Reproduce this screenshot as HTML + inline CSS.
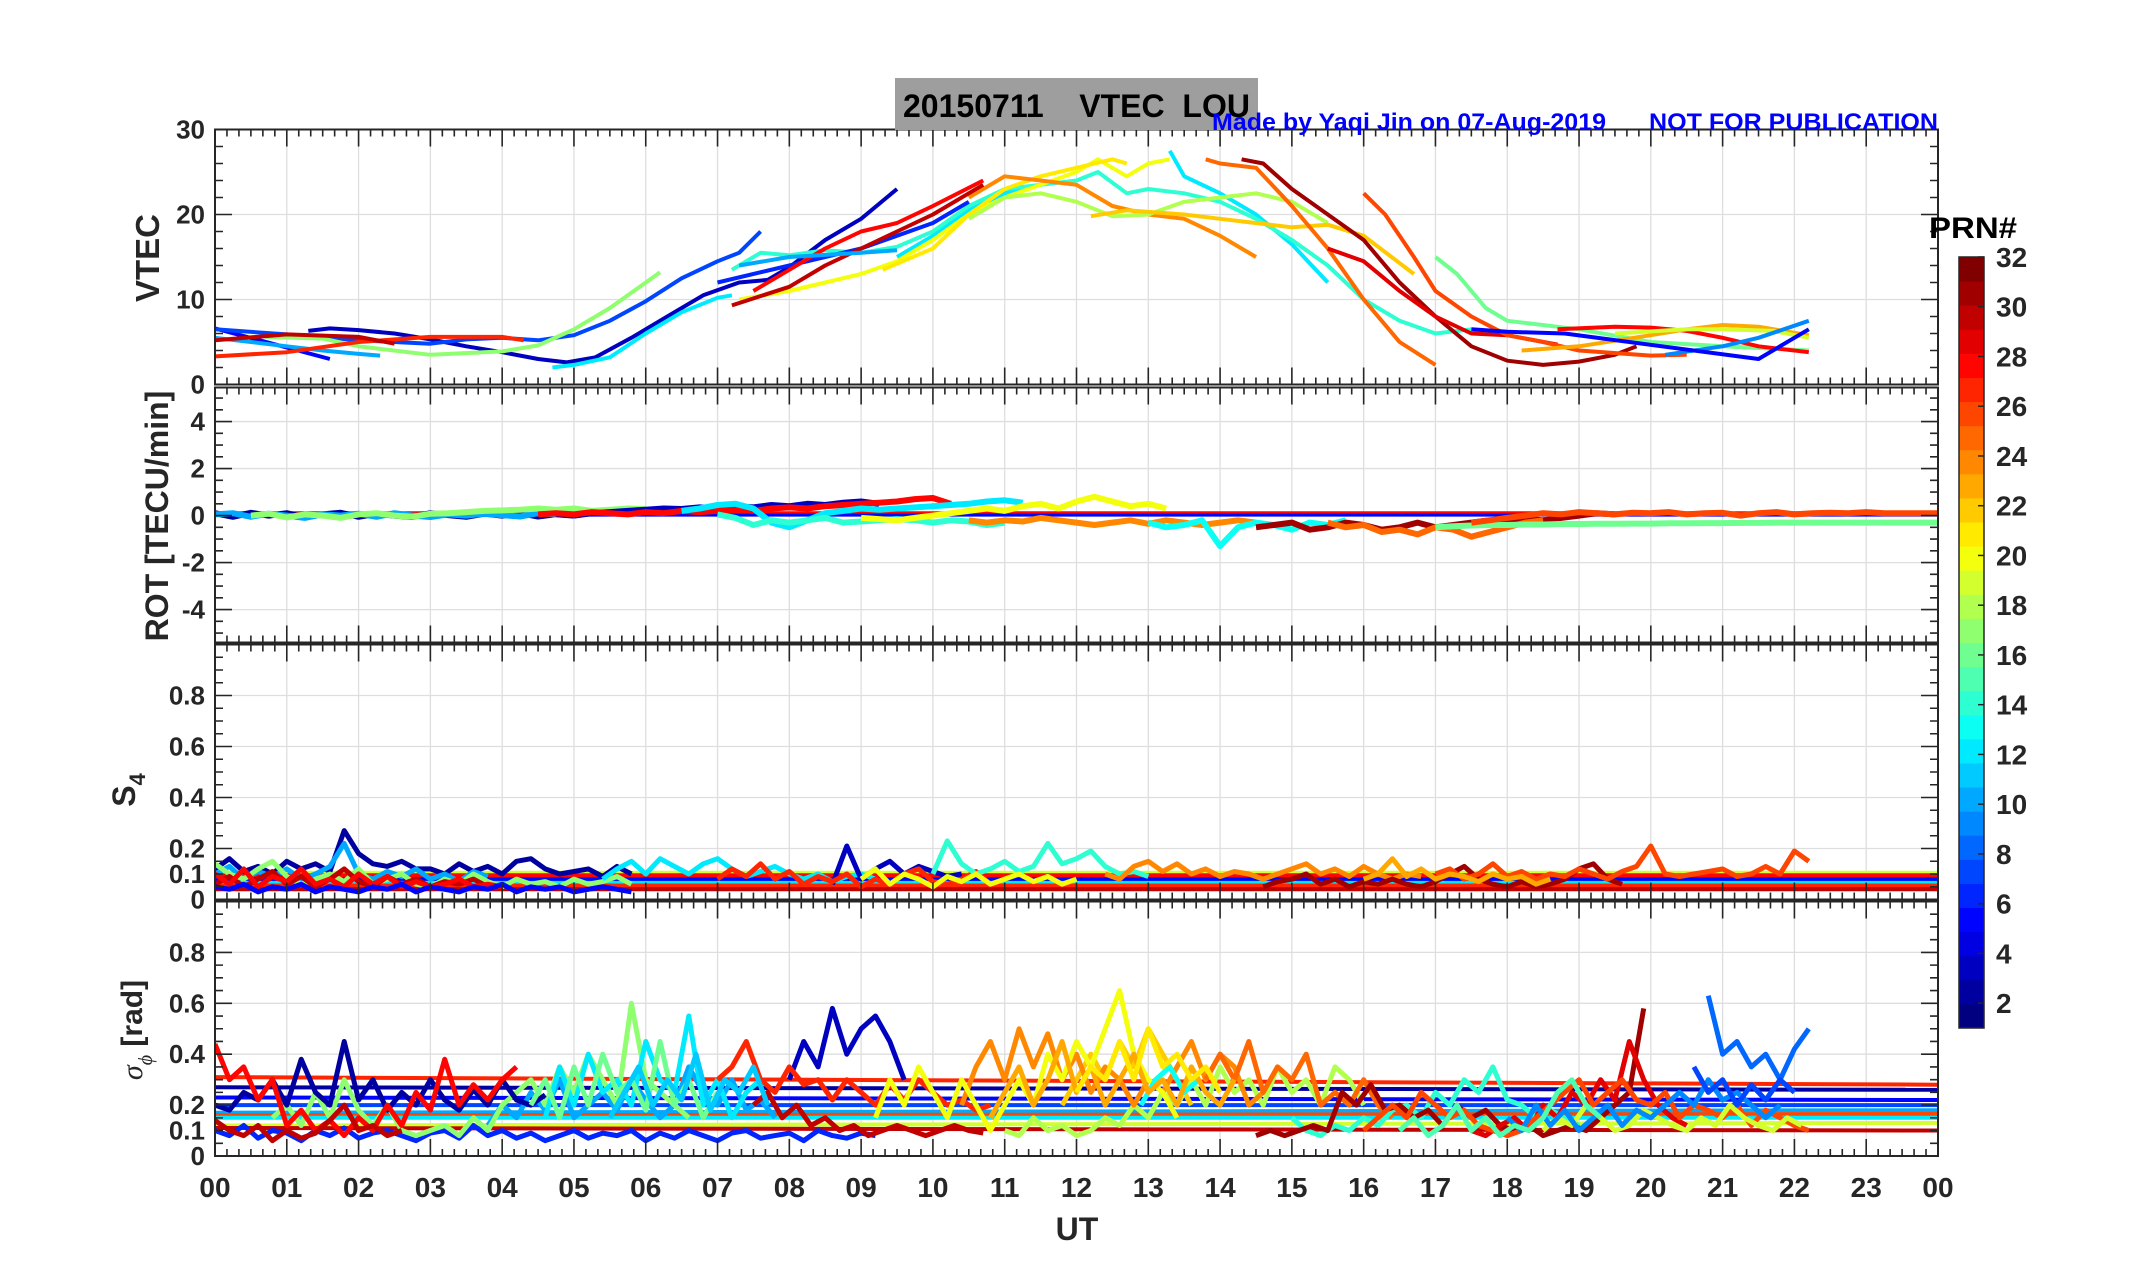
<!DOCTYPE html>
<html><head><meta charset="utf-8"><style>
html,body{margin:0;padding:0;background:#fff;}
svg{display:block;font-family:"Liberation Sans",Arial,sans-serif;}
</style></head><body>
<svg id="fig" width="2153" height="1286" viewBox="0 0 2153 1286" xmlns="http://www.w3.org/2000/svg">
<rect x="0" y="0" width="2153" height="1286" fill="#fff"/>
<g id="grid"></g><g id="data"></g><g id="axes"></g>
<rect x="895" y="78" width="363" height="52" fill="#9e9e9e"/>
<text x="903" y="117" font-size="32" font-weight="bold" textLength="347" lengthAdjust="spacingAndGlyphs" fill="#000" xml:space="preserve">20150711    VTEC  LOU</text>
<text x="1212" y="130" font-size="24" font-weight="bold" fill="#0000ff" textLength="394" lengthAdjust="spacingAndGlyphs">Made by Yaqi Jin on 07-Aug-2019</text>
<text x="1649" y="130" font-size="24" font-weight="bold" fill="#0000ff" textLength="289" lengthAdjust="spacingAndGlyphs">NOT FOR PUBLICATION</text>
<text transform="translate(159,258) rotate(-90)" text-anchor="middle" font-size="33" font-weight="bold" fill="#262626">VTEC</text>
<text transform="translate(168,516) rotate(-90)" text-anchor="middle" font-size="32" font-weight="bold" fill="#262626">ROT [TECU/min]</text>
<text transform="translate(135,790) rotate(-90)" text-anchor="middle" font-size="32" font-weight="bold" fill="#262626">S<tspan font-size="22" dy="10">4</tspan></text>
<text transform="translate(142,1030) rotate(-90)" text-anchor="middle" font-size="30" font-weight="bold" fill="#262626"><tspan font-style="italic" font-weight="normal" font-family="Liberation Serif,serif">σ</tspan><tspan font-size="20" dy="10" font-style="italic" font-weight="normal" font-family="Liberation Serif,serif">ϕ</tspan><tspan dy="-10"> [rad]</tspan></text>
<text x="1077" y="1240" text-anchor="middle" font-size="32" font-weight="bold" fill="#262626">UT</text>
<text x="1929" y="238" font-size="30" font-weight="bold" fill="#000" textLength="88" lengthAdjust="spacingAndGlyphs">PRN#</text>
<g id="cbar"></g>
</svg>
<script>
// ---------- data ----------
const hourTicks = ["00","01","02","03","04","05","06","07","08","09","10","11","12","13","14","15","16","17","18","19","20","21","22","23","00"];
const vtecTicks = [0,10,20,30];
const rotTicks = [-4,-2,0,2,4];
const s4Ticks = [0,0.1,0.2,0.4,0.6,0.8];
const sigTicks = [0,0.1,0.2,0.4,0.6,0.8];
const prnTicks = [2,4,6,8,10,12,14,16,18,20,22,24,26,28,30,32];

const vtecPrn = [5,3,7,10,12,12,12,17,27,30,14,20,21,24,18,22,25,31,29,26,16,28,23,19,9,5,6,30,28,10];
const vtecPts = [
 [[0,6.6],[0.8,4.8],[1.6,3.0]],
 [[1.3,6.3],[1.6,6.6],[2,6.4],[2.5,6.0],[3,5.3],[3.5,4.5],[4,3.8],[4.5,3.0],[4.9,2.6],[5.3,3.2],[5.8,5.5],[6.3,8.0],[6.8,10.5],[7.3,12.0],[7.7,12.3],[8,13.8],[8.5,17],[9,19.5],[9.5,23]],
 [[0,6.5],[1,5.9],[2,5.2],[3,4.8],[3.5,5.3],[4,5.5],[4.5,5.2],[5,5.8],[5.5,7.5],[6,9.8],[6.5,12.5],[7,14.5],[7.3,15.5],[7.6,18]],
 [[0,5.5],[0.5,5.0],[1,4.5],[1.5,4.0],[2,3.6],[2.3,3.4]],
 [[4.7,2.0],[5,2.3],[5.5,3.2],[6,6],[6.5,8.5],[7,10.2],[7.2,10.5]],
 [[9.5,15],[10,17.5],[10.5,20.5],[11,22.5],[11.5,23.5]],
 [[13.3,27.5],[13.5,24.5],[14,22.5],[14.5,20],[15,16.5],[15.5,12]],
 [[0.7,5.6],[1.5,5.4],[2,4.5],[3,3.5],[4,3.9],[4.5,4.6],[5,6.5],[5.5,9],[6,12],[6.2,13.2]],
 [[0,3.3],[1,3.8],[2,5.0],[3,5.6],[4,5.6],[4.3,5.2]],
 [[0,5.2],[1,5.9],[2,5.6],[2.5,4.8]],
 [[7.2,13.5],[7.6,15.5],[8,15.2],[8.5,15.8],[9,15.5],[9.5,16.2],[10,18],[10.5,21],[11,23],[11.5,23.5],[12,24],[12.3,25],[12.7,22.5],[13,23],[13.5,22.5],[14,21.5],[14.5,19.5],[15,17],[15.5,14],[16,10],[16.5,7.5],[17,6],[17.5,6.5],[18,5.8]],
 [[7.3,10],[8,11],[9,13],[9.5,14.5],[10,17],[10.5,20],[11,22],[11.5,23.5],[12,25],[12.3,26.5],[12.7,24.5],[13,26],[13.3,26.5]],
 [[9.3,13.5],[10,16],[10.5,20],[11,23],[11.5,24.5],[12,25.5],[12.5,26.5],[12.7,26]],
 [[10.5,22],[11,24.5],[11.5,24],[12,23.5],[12.5,21],[13,20],[13.5,19.5],[14,17.5],[14.5,15]],
 [[10.5,19.5],[11,22],[11.5,22.5],[12,21.5],[12.5,19.8],[13,20],[13.5,21.5],[14,22],[14.5,22.5],[15,21.5],[15.5,19]],
 [[12.2,19.8],[12.7,20.5],[13.5,20],[14,19.5],[15,18.5],[15.5,18.8],[16,17.5],[16.7,13]],
 [[13.8,26.5],[14,26],[14.5,25.5],[15,21],[15.5,16],[16,10],[16.5,5],[17,2.3]],
 [[14.3,26.5],[14.6,26],[15,23],[15.5,20],[16,17],[16.5,12],[17,8],[17.5,4.5],[18,2.8],[18.5,2.3],[19,2.7],[19.5,3.5],[19.8,4.5]],
 [[15.5,16],[16,14.5],[16.5,11],[17,8],[17.5,6],[18,5.8],[18.7,4.7]],
 [[16,22.5],[16.3,20],[16.7,15],[17,11],[17.5,8],[18,5.8],[18.5,5],[19,4],[20,3.4],[20.5,3.5]],
 [[17,15],[17.3,13],[17.7,9],[18,7.5],[19,6.5],[20,5],[21,4.5],[22.2,4]],
 [[18.7,6.5],[19.5,6.8],[20,6.7],[20.5,6.3],[21,5.5],[21.5,4.5],[22.2,3.8]],
 [[18.2,4.0],[19,4.5],[20,5.8],[20.5,6.5],[21,7],[21.5,6.8],[22.2,5.8]],
 [[19.5,6],[20.5,6.5],[21,6.5],[21.7,6.3],[22.2,5.5]],
 [[20.2,3.5],[21,4.5],[21.5,5.5],[22.2,7.5]],
 [[17.5,6.5],[18,6.2],[18.8,6],[21.5,3],[22.2,6.5]],
 [[7,12],[8,14],[9,16],[10,19],[10.5,21.5]],
 [[7.2,9.3],[8,11.5],[8.5,14],[9,16],[9.5,18],[10,20],[10.5,22.5],[10.7,23.5]],
 [[7.5,11],[8,13.5],[8.5,16],[9,18],[9.5,19],[10,21],[10.7,24]],
 [[7.3,14],[8,15],[9,15.5],[9.5,15.8]]
];

const rotPrn = [2,10,17,3,28,12,14,20,24,13,31,25,16,26];
const rotStart = [0,0,0.5,5,4.5,6.5,7,9,10.5,13,14.5,15.5,17,17.5];
const rotVals = [
 [0.1,-0.05,0.12,0.0,0.1,-0.08,0.05,0.12,-0.05,0.08,0.0,-0.06,0.1,0.02,-0.05,0.08,0.0,0.1,-0.04,0.06,0.0],
 [0.05,0.1,-0.05,0.08,0.0,-0.1,0.06,0.0,0.08,-0.05,0.1,0.0,-0.06,0.05,0.0,0.08,0.02,-0.04,0.1,0.05],
 [0.0,0.08,-0.08,0.05,0.0,-0.1,0.05,0.1,0.0,-0.05,0.08,0.1,0.15,0.2,0.22,0.25,0.3,0.25,0.3,0.2,0.25,0.3,0.28],
 [0.0,0.1,0.15,0.2,0.25,0.3,0.28,0.35,0.3,0.4,0.35,0.45,0.4,0.5,0.45,0.55,0.6,0.5],
 [0.05,0.1,0.05,0.15,0.1,0.05,0.15,0.1,0.2,0.15,0.2,0.25,0.2,0.3,0.35,0.3,0.4,0.45,0.5,0.55,0.6,0.7,0.75,0.5],
 [0.2,0.3,0.45,0.5,0.3,-0.3,-0.5,-0.2,0.1,0.2,0.3,0.25,0.3,0.35,0.4,0.45,0.5,0.6,0.65,0.55],
 [0.05,-0.1,-0.4,-0.2,-0.3,-0.2,-0.1,-0.3,-0.25,-0.2,-0.15,-0.2,-0.3,-0.2,-0.25,-0.4,-0.3],
 [-0.1,-0.15,-0.2,-0.1,0.0,0.1,0.2,0.3,0.2,0.4,0.5,0.3,0.6,0.8,0.6,0.4,0.5,0.3],
 [-0.2,-0.3,-0.2,-0.25,-0.1,-0.2,-0.3,-0.4,-0.3,-0.2,-0.35,-0.2,-0.3,-0.4,-0.3,-0.2,-0.3],
 [-0.3,-0.5,-0.4,-0.2,-1.3,-0.5,-0.3,-0.4,-0.6,-0.3,-0.4,-0.2],
 [-0.5,-0.4,-0.3,-0.6,-0.5,-0.3,-0.4,-0.6,-0.5,-0.3,-0.5,-0.4,-0.3,-0.2,-0.3,-0.15,-0.2,-0.1,0.0,0.1,0.05],
 [-0.3,-0.5,-0.4,-0.7,-0.6,-0.8,-0.5,-0.6,-0.9,-0.7,-0.5,-0.3,-0.2],
 [-0.5,-0.45,-0.42,-0.4,-0.4,-0.38,-0.38,-0.36,-0.36,-0.35,-0.35,-0.34,-0.34,-0.33,-0.33,-0.32,-0.32,-0.31,-0.31,-0.3,-0.3,-0.3,-0.3,-0.3,-0.3,-0.3,-0.3,-0.3,-0.3],
 [-0.3,-0.2,-0.1,0.0,0.1,0.05,0.15,0.1,0.05,0.12,0.1,0.15,0.05,0.1,0.12,0.0,0.1,0.15,0.05,0.1,0.12,0.1,0.15,0.1,0.1,0.1,0.1,0.1,0.1]
];

const s4Prn = [2,10,17,30,28,12,3,27,14,24,20,31,26,5,23];
const s4Start = [0,0,0,0,0,5.4,8.6,7,10,12.4,9,14.6,17,0,16];
const s4Vals = [
 [0.12,0.16,0.11,0.13,0.1,0.15,0.12,0.14,0.11,0.27,0.18,0.14,0.13,0.15,0.12,0.12,0.1,0.14,0.11,0.13,0.1,0.15,0.16,0.12,0.1,0.11,0.12,0.09,0.13,0.1],
 [0.1,0.13,0.08,0.11,0.09,0.12,0.08,0.1,0.13,0.22,0.1,0.08,0.11,0.09,0.12,0.08,0.1,0.07,0.11,0.09],
 [0.14,0.1,0.08,0.12,0.15,0.09,0.06,0.08,0.1,0.07,0.12,0.06,0.08,0.1,0.06,0.05,0.08,0.06,0.1,0.07,0.05,0.08,0.06,0.07,0.05,0.08,0.06,0.07,0.09,0.06],
 [0.06,0.09,0.05,0.08,0.11,0.06,0.09,0.05,0.08,0.12,0.07,0.05,0.09,0.06,0.08,0.05,0.07,0.06,0.08,0.05],
 [0.1,0.06,0.12,0.05,0.09,0.07,0.12,0.06,0.08,0.05,0.1,0.06,0.09,0.05,0.07,0.05,0.06,0.08,0.05,0.06,0.05],
 [0.08,0.12,0.15,0.1,0.16,0.13,0.1,0.14,0.16,0.12,0.09,0.11,0.13,0.1,0.08,0.1,0.07,0.09,0.1,0.08],
 [0.06,0.21,0.08,0.12,0.15,0.1,0.13,0.11,0.09,0.1],
 [0.08,0.12,0.09,0.14,0.08,0.11,0.06,0.09,0.07,0.1,0.05,0.08,0.06,0.1,0.12,0.07,0.06,0.08,0.11,0.06],
 [0.1,0.23,0.14,0.1,0.12,0.15,0.11,0.13,0.22,0.14,0.16,0.19,0.13,0.1,0.11,0.09],
 [0.1,0.08,0.13,0.15,0.11,0.14,0.1,0.12,0.09,0.11,0.1,0.08,0.1,0.12,0.14,0.1,0.12,0.09,0.13,0.1,0.08,0.1,0.09],
 [0.08,0.12,0.06,0.1,0.08,0.05,0.09,0.07,0.1,0.06,0.08,0.1,0.07,0.09,0.06,0.08],
 [0.05,0.07,0.08,0.1,0.06,0.08,0.05,0.07,0.06,0.08,0.06,0.05,0.07,0.1,0.13,0.08,0.06,0.05,0.07,0.05,0.06,0.08,0.12,0.14,0.08,0.06],
 [0.1,0.12,0.08,0.1,0.14,0.09,0.11,0.08,0.1,0.09,0.12,0.1,0.08,0.11,0.13,0.21,0.1,0.09,0.1,0.11,0.12,0.09,0.1,0.13,0.1,0.19,0.15],
 [0.05,0.04,0.06,0.03,0.05,0.04,0.06,0.03,0.05,0.04,0.03,0.05,0.04,0.06,0.03,0.05,0.04,0.03,0.05,0.04,0.06,0.03,0.05,0.04,0.05,0.03,0.04,0.05,0.04,0.03],
 [0.08,0.1,0.16,0.09,0.12,0.08,0.1,0.09,0.07,0.1,0.08,0.09,0.06,0.08]
];
const s4LinePrn = [19,28,5,12,27,30];
const s4LineVal = [0.105,0.095,0.08,0.065,0.055,0.04];

const sigPrn = [6,10,17,12,2,28,30,3,27,30,22,18,24,20,13,25,14,31,29,26,19,8,16,11,23,9,15,21,7];
const sigStart = [0,3.8,0.8,4.6,0,0,0,8,7,7.5,11.8,11,10.4,9.2,12.9,13.8,15,14.5,17.5,16,18.5,20.8,4.4,5.5,10.8,18,16.5,12,20.6];
const sigVals = [
 [0.1,0.08,0.12,0.07,0.1,0.09,0.06,0.1,0.08,0.11,0.07,0.09,0.1,0.08,0.06,0.09,0.1,0.07,0.12,0.08,0.1,0.07,0.09,0.06,0.08,0.1,0.07,0.09,0.08,0.1,0.06,0.09,0.07,0.1,0.08,0.06,0.09,0.1,0.07,0.08,0.09,0.06,0.1,0.08,0.07,0.09,0.08],
 [0.12,0.2,0.15,0.25,0.18,0.3,0.15,0.2,0.25,0.18,0.3,0.22,0.15,0.2,0.35,0.25,0.2,0.3,0.18,0.22,0.15],
 [0.15,0.2,0.12,0.25,0.15,0.3,0.18,0.12,0.2,0.1,0.08,0.1,0.12,0.08,0.15,0.1,0.2,0.25,0.3,0.2,0.35,0.25,0.4,0.3,0.2,0.6,0.3,0.25,0.2,0.15],
 [0.15,0.35,0.2,0.4,0.25,0.3,0.2,0.45,0.3,0.25,0.55,0.2,0.3,0.15,0.25,0.3],
 [0.2,0.18,0.25,0.22,0.3,0.2,0.38,0.25,0.2,0.45,0.22,0.3,0.18,0.25,0.2,0.3,0.22,0.18,0.26,0.2,0.3,0.22,0.2,0.24],
 [0.44,0.3,0.35,0.22,0.3,0.12,0.18,0.1,0.14,0.08,0.15,0.1,0.2,0.12,0.25,0.18,0.38,0.2,0.28,0.22,0.3,0.35],
 [0.14,0.1,0.08,0.12,0.06,0.1,0.07,0.09,0.14,0.2,0.1,0.12,0.08,0.1],
 [0.3,0.45,0.35,0.58,0.4,0.5,0.55,0.45,0.3],
 [0.3,0.35,0.45,0.3,0.25,0.35,0.28,0.3,0.22,0.3,0.25,0.2,0.28,0.22,0.3,0.25,0.2,0.22,0.18,0.2],
 [0.2,0.25,0.15,0.2,0.12,0.15,0.1,0.12,0.08,0.1,0.12,0.1,0.08,0.1,0.12,0.1,0.09],
 [0.2,0.3,0.4,0.3,0.45,0.35,0.5,0.4,0.3,0.2],
 [0.1,0.08,0.15,0.1,0.12,0.08,0.1,0.15,0.12,0.2,0.15,0.25,0.2,0.3,0.2,0.35,0.25,0.3,0.2,0.35,0.25,0.3,0.2,0.35,0.3,0.2],
 [0.2,0.35,0.45,0.3,0.5,0.35,0.48,0.3,0.4,0.25,0.35,0.3,0.2,0.3,0.25,0.35,0.45,0.3,0.4,0.35,0.2,0.25],
 [0.15,0.3,0.2,0.35,0.25,0.15,0.3,0.2,0.1,0.2,0.3,0.2,0.4,0.3,0.45,0.35,0.5,0.65,0.4,0.3,0.25,0.15],
 [0.2,0.3,0.35,0.25,0.3],
 [0.3,0.4,0.3,0.45,0.25,0.35,0.3,0.4,0.2,0.25,0.2,0.3,0.2,0.15],
 [0.15,0.1,0.08,0.12,0.1,0.15,0.12,0.18,0.2,0.15,0.25,0.2,0.3,0.25,0.35,0.22,0.2,0.15,0.18,0.15,0.12],
 [0.08,0.1,0.08,0.1,0.12,0.1,0.25,0.2,0.28,0.18,0.2,0.15,0.18,0.12,0.2,0.15,0.18,0.12,0.1,0.12,0.08,0.1,0.12,0.1,0.15,0.2,0.25,0.58],
 [0.1,0.08,0.12,0.15,0.1,0.2,0.15,0.25,0.2,0.3,0.22,0.45,0.3,0.2,0.15,0.12],
 [0.1,0.15,0.2,0.15,0.25,0.2,0.15,0.18,0.12,0.1,0.08,0.1,0.15,0.2,0.25,0.3,0.2,0.25,0.3,0.22,0.2,0.25,0.15,0.2,0.18,0.15,0.2,0.12,0.18,0.15,0.12,0.1],
 [0.1,0.15,0.12,0.2,0.15,0.1,0.12,0.18,0.15,0.12,0.1,0.15,0.12,0.2,0.15,0.12,0.1,0.15,0.12],
 [0.63,0.4,0.45,0.35,0.4,0.3,0.42,0.5],
 [0.2,0.3,0.15,0.35,0.2,0.4,0.25,0.3,0.18,0.45,0.2,0.3,0.15,0.25],
 [0.15,0.25,0.35,0.2,0.3,0.22,0.4,0.18,0.3,0.25,0.35,0.2],
 [0.15,0.25,0.35,0.2,0.3,0.45,0.25,0.35,0.2,0.3,0.4,0.25,0.3,0.2,0.35,0.25,0.2,0.3],
 [0.15,0.1,0.2,0.12,0.18,0.1,0.15,0.2,0.12,0.18,0.15,0.2,0.25,0.2,0.3,0.22,0.25,0.2,0.15,0.2],
 [0.1,0.15,0.08,0.12,0.2,0.1,0.15,0.08,0.12,0.1,0.15,0.25,0.3,0.2,0.15],
 [0.25,0.35,0.3,0.45,0.3,0.5,0.35,0.4,0.3,0.35,0.25],
 [0.35,0.25,0.3,0.2,0.28,0.22,0.3,0.25]
];
const sigLinePrn = [27,2,5,7,10,26,12,19,30];
const sigLineStart = [0.31,0.27,0.23,0.2,0.17,0.16,0.15,0.12,0.11];
const sigLineEnd = [0.28,0.26,0.22,0.2,0.18,0.165,0.15,0.13,0.1];

// ---------- geometry ----------
const X0 = 215, X1 = 1938;
const panels = {
  vtec: {top:129.5, bot:384.5, min:0, max:30},
  rot:  {top:387.5, bot:642.5, min:-5.4, max:5.45},
  s4:   {top:644.5, bot:899.5, min:0, max:1},
  sig:  {top:901.5, bot:1156, min:0, max:1}
};
const NS = "http://www.w3.org/2000/svg";
function xS(h){ return X0 + h*(X1-X0)/24; }
function yS(p,v){ return p.bot - (v-p.min)/(p.max-p.min)*(p.bot-p.top); }
function jet(n){
  const t=(n-1)/31;
  const c=v=>Math.round(255*Math.max(0,Math.min(1,v)));
  return `rgb(${c(1.5-Math.abs(4*t-3))},${c(1.5-Math.abs(4*t-2))},${c(1.5-Math.abs(4*t-1))})`;
}
function mk(tag, attrs, parent){
  const el=document.createElementNS(NS,tag);
  for(const k in attrs) el.setAttribute(k,attrs[k]);
  parent.appendChild(el); return el;
}
const G=document.getElementById('grid'), D=document.getElementById('data'), A=document.getElementById('axes'), CB=document.getElementById('cbar');

function clipFor(name,p){
  let defs=document.querySelector('defs')||mk('defs',{},document.getElementById('fig'));
  const cp=mk('clipPath',{id:'clip-'+name},defs);
  mk('rect',{x:X0,y:p.top,width:X1-X0,height:p.bot-p.top},cp);
}

function drawPanel(name,p,yt,minorStep,labels){
  clipFor(name,p);
  for(let h=1;h<24;h++){
    const l=mk('line',{x1:xS(h),x2:xS(h),y1:p.top,y2:p.bot,stroke:'#dedede','stroke-width':1.3},G);
    
    
  }
  yt.forEach(v=>{
    if(v===p.min) return;
    const l=mk('line',{x1:X0,x2:X1,y1:yS(p,v),y2:yS(p,v),stroke:'#dedede','stroke-width':1.3},G);
    
    
  });
  const b=mk('rect',{x:X0,y:p.top,width:X1-X0,height:p.bot-p.top,fill:'none',stroke:'#262626','stroke-width':2},A);
  
  
  let d='';
  for(let i=0;i<=144;i++){
    const x=xS(i/6), len=(i%6===0)?17:7;
    d+=`M${x} ${p.top}v${len}M${x} ${p.bot}v${-len}`;
  }
  const xt=mk('path',{d:d,stroke:'#262626','stroke-width':1.6,fill:'none'},A);
  
  
  let dy='';
  for(let v=Math.ceil(p.min/minorStep)*minorStep; v<=p.max+1e-9; v+=minorStep){
    const major=yt.some(t=>Math.abs(t-v)<1e-6);
    const len=major?17:8, y=yS(p,v);
    dy+=`M${X0} ${y}h${len}M${X1} ${y}h${-len}`;
  }
  const ytk=mk('path',{d:dy,stroke:'#262626','stroke-width':1.6,fill:'none'},A);
  
  
  labels.forEach((v,i)=>{
    const t=mk('text',{x:205,y:yS(p,v)+9,'text-anchor':'end','font-size':26,'font-weight':'bold',fill:'#262626'},A);
    t.textContent=String(v);
    
    
  });
}
drawPanel('vtec',panels.vtec,vtecTicks,2,vtecTicks);
drawPanel('rot',panels.rot,rotTicks,0.5,rotTicks);
drawPanel('s4',panels.s4,[0.2,0.4,0.6,0.8],0.05,s4Ticks);
drawPanel('sigma',panels.sig,[0.2,0.4,0.6,0.8],0.05,sigTicks);

hourTicks.forEach((s,i)=>{
  const t=mk('text',{x:xS(i),y:1197,'text-anchor':'middle','font-size':28,'font-weight':'bold',fill:'#262626'},A);
  t.textContent=s;
  
  
});

function polyline(pts,color,clip,name,w){
  const el=mk('polyline',{points:pts.map(q=>q[0].toFixed(1)+','+q[1].toFixed(1)).join(' '),fill:'none',stroke:color,'stroke-width':w||4,'stroke-linejoin':'round','clip-path':'url(#clip-'+clip+')'},D);
  
  
  return el;
}
s4LinePrn.forEach((prn,i)=>{
  polyline([[xS(0),yS(panels.s4,s4LineVal[i])],[xS(24),yS(panels.s4,s4LineVal[i])]],jet(prn),'s4','s4-mean-line');
});
sigLinePrn.forEach((prn,i)=>{
  polyline([[xS(0),yS(panels.sig,sigLineStart[i])],[xS(24),yS(panels.sig,sigLineEnd[i])]],jet(prn),'sigma','sigma-mean-line');
});
polyline([[xS(0),yS(panels.rot,0.08)],[xS(24),yS(panels.rot,0.08)]],jet(28),'rot','rot-baseline',5);
polyline([[xS(0),yS(panels.rot,0.02)],[xS(24),yS(panels.rot,0.02)]],jet(5),'rot','rot-baseline',3);

vtecPts.forEach((seg,i)=>{
  polyline(seg.map(q=>[xS(q[0]),yS(panels.vtec,q[1])]),jet(vtecPrn[i]),'vtec','vtec-prn-'+vtecPrn[i],4);
});
rotVals.forEach((vals,i)=>{
  polyline(vals.map((v,k)=>[xS(rotStart[i]+k*0.25),yS(panels.rot,v)]),jet(rotPrn[i]),'rot','rot-prn-'+rotPrn[i],6);
});
s4Vals.forEach((vals,i)=>{
  polyline(vals.map((v,k)=>[xS(s4Start[i]+k*0.2),yS(panels.s4,v)]),jet(s4Prn[i]),'s4','s4-prn-'+s4Prn[i],5);
});
sigVals.forEach((vals,i)=>{
  polyline(vals.map((v,k)=>[xS(sigStart[i]+k*0.2),yS(panels.sig,v)]),jet(sigPrn[i]),'sigma','sigma-prn-'+sigPrn[i],5);
});

const CBX=1959, CBW=25, CBT=257, CBB=1028;
for(let n=1;n<=32;n++){
  const h=(CBB-CBT)/32;
  const r=mk('rect',{x:CBX,y:CBB-n*h,width:CBW,height:h+0.5,fill:jet(n)},CB);
  
  
}
const cbo=mk('rect',{x:CBX,y:CBT,width:CBW,height:CBB-CBT,fill:'none',stroke:'#262626','stroke-width':1.5},CB);


prnTicks.forEach(v=>{
  const y=CBB-(v-1)/31*(CBB-CBT);
  const tk=mk('line',{x1:CBX+CBW-6,x2:CBX+CBW,y1:y,y2:y,stroke:'#262626','stroke-width':1.5},CB);
  
  
  const t=mk('text',{x:1996,y:y+10,'font-size':28,'font-weight':'bold',fill:'#262626'},CB);
  t.textContent=String(v);
  
  
});
</script>
</body></html>
